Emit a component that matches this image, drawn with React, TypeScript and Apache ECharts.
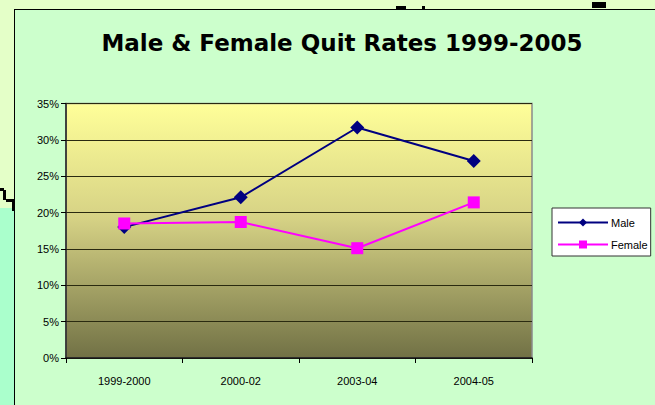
import React, { useEffect, useRef } from "react";
import * as echarts from "echarts";

const categories = ["1999-2000", "2000-02", "2003-04", "2004-05"];
const maleRates = [0.18, 0.221, 0.317, 0.271];
const femaleRates = [0.185, 0.187, 0.151, 0.214];
const yTicks = [0, 0.05, 0.1, 0.15, 0.2, 0.25, 0.3, 0.35];
const titleText = "Male & Female Quit Rates 1999-2005";

export default function App() {
  const ref = useRef<HTMLDivElement>(null);
  useEffect(() => {
    if (!ref.current) return;
    const chart = echarts.init(ref.current, undefined, { renderer: "svg" });
    chart.setOption({
      animation: false,
      backgroundColor: "transparent",
      title: {
        text: titleText,
        left: 337,
        textAlign: "center",
        top: 26,
        textStyle: {
          fontFamily: "DejaVu Sans",
          fontWeight: "bold",
          fontSize: 23,
          color: "#000000",
        },
      },
      legend: {
        orient: "vertical",
        left: 552,
        top: 208,
        padding: [9, 3, 6, 5],
        itemGap: 11,
        itemWidth: 50,
        itemHeight: 10,
        backgroundColor: "#ffffff",
        borderColor: "#333333",
        borderWidth: 1,
        borderRadius: 0,
        textStyle: { fontFamily: "Liberation Sans", fontSize: 11, color: "#000000", padding: [0, 0, 0, -2] },
        data: ["Male", "Female"],
      },
      grid: {
        left: 66,
        top: 103.5,
        width: 466,
        height: 254.5,
        show: true,
        borderColor: "#8a8a8a",
        borderWidth: 1.5,
        backgroundColor: {
          type: "linear",
          x: 0,
          y: 0,
          x2: 0,
          y2: 1,
          colorStops: [
            { offset: 0, color: "#ffff99" },
            { offset: 0.45, color: "#d6d285" },
            { offset: 1, color: "#717145" },
          ],
        },
      },
      xAxis: {
        type: "category",
        data: categories,
        boundaryGap: true,
        axisLine: { lineStyle: { color: "#111111", width: 1.5 } },
        axisTick: { show: true, length: 5, lineStyle: { color: "#000000" } },
        axisLabel: { fontFamily: "Liberation Sans", fontSize: 11, color: "#000000", margin: 17 },
      },
      yAxis: {
        type: "value",
        min: yTicks[0],
        max: yTicks[yTicks.length - 1],
        interval: 0.05,
        axisLine: { show: true, lineStyle: { color: "#222222", width: 1.5 } },
        axisTick: { show: true, length: 5, lineStyle: { color: "#000000" } },
        axisLabel: {
          fontFamily: "Liberation Sans",
          fontSize: 11,
          color: "#000000",
          margin: 7,
          formatter: (v: number) => Math.round(v * 100) + "%",
        },
        splitLine: { show: true, lineStyle: { color: "#2a2a10", width: 1 } },
      },
      series: [
        {
          name: "Male",
          type: "line",
          data: maleRates,
          color: "#000080",
          symbol: "diamond",
          symbolSize: 14,
          lineStyle: { width: 2, color: "#000080" },
          itemStyle: { color: "#000080" },
        },
        {
          name: "Female",
          type: "line",
          data: femaleRates,
          color: "#ff00ff",
          symbol: "rect",
          symbolSize: 12,
          lineStyle: { width: 2, color: "#ff00ff" },
          itemStyle: { color: "#ff00ff" },
        },
      ],
    });
    return () => chart.dispose();
  }, []);

  return (
    <div style={{ position: "fixed", left: 0, top: 0, width: 655, height: 405, overflow: "hidden", background: "#e4ffc8" }}>
      <div style={{ position: "absolute", left: 0, top: 208, width: 14, height: 197, background: "#aaffcc" }} />
      <div style={{ position: "absolute", left: 0, top: 188, width: 4, height: 3, background: "#000" }} />
      <div style={{ position: "absolute", left: 3, top: 190, width: 3, height: 10, background: "#000" }} />
      <div style={{ position: "absolute", left: 6, top: 199, width: 8, height: 3, background: "#000" }} />
      <div style={{ position: "absolute", left: 12, top: 201, width: 3, height: 10, background: "#000" }} />
      <div style={{ position: "absolute", left: 396, top: 6, width: 10, height: 3, background: "#000" }} />
      <div style={{ position: "absolute", left: 422, top: 6, width: 3, height: 3, background: "#000" }} />
      <div style={{ position: "absolute", left: 592, top: 2, width: 14, height: 6, background: "#000" }} />
      <div
        style={{
          position: "absolute",
          left: 14,
          top: 9,
          width: 700,
          height: 500,
          background: "#ccffcc",
          borderLeft: "1.5px solid #000",
          borderTop: "1.5px solid #000",
          boxSizing: "border-box",
        }}
      />
      <div ref={ref} style={{ position: "absolute", left: 0, top: 0, width: 655, height: 405 }} />
    </div>
  );
}
